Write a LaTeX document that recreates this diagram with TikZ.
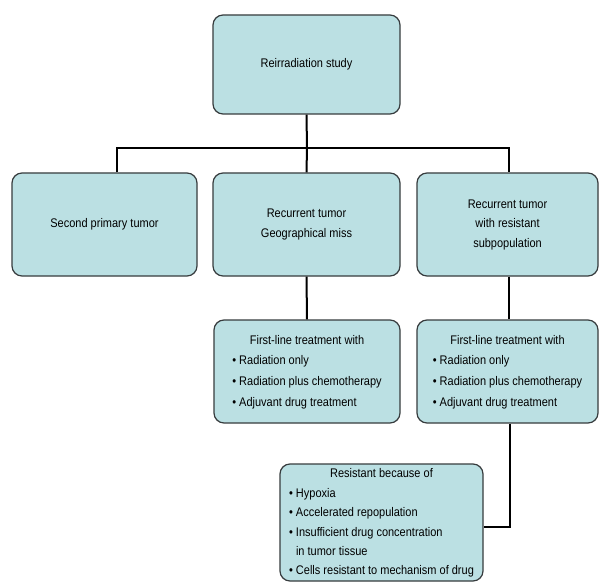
\documentclass[tikz,border=0pt]{standalone}
\usepackage{fontspec}
\setmainfont{Liberation Sans}[FakeStretch=0.88]
\definecolor{boxfill}{RGB}{187,224,227}
\definecolor{boxline}{RGB}{55,60,62}
\begin{document}
\begin{tikzpicture}[x=1pt,y=-1pt,
  box/.style={draw=boxline, line width=1.2pt, fill=boxfill, rounded corners=10pt,
    inner sep=0pt, align=center, font=\fontsize{12.5}{19.5}\selectfont},
  conn/.style={line width=2pt, black}]
\fill[white] (0,0) rectangle (600,583);
\useasboundingbox (0,0) rectangle (600,583);
\renewcommand{\arraystretch}{1.45}
\node[box, minimum width=187pt, minimum height=99pt] (top) at (306.5,64.5) {Reirradiation study};
\node[box, minimum width=185pt, minimum height=103pt] (left) at (104.5,224.5) {Second primary tumor};
\node[box, minimum width=187pt, minimum height=103pt] (mid) at (306.5,224.5) {Recurrent tumor\\Geographical miss};
\node[box, minimum width=181pt, minimum height=103pt] (right) at (507.5,224.5) {Recurrent tumor\\with resistant\\subpopulation};
\node[box, minimum width=186pt, minimum height=103pt] (treatA) at (307,371.5) {\fontsize{12.5}{14.5}\selectfont\begin{tabular}{@{}l@{}}\multicolumn{1}{@{}c@{}}{First-line treatment with}\\[-1pt] • Radiation only\\ • Radiation plus chemotherapy\\ • Adjuvant drug treatment\end{tabular}};
\node[box, minimum width=181pt, minimum height=103pt] (treatB) at (507.5,371.5) {\fontsize{12.5}{14.5}\selectfont\begin{tabular}{@{}l@{}}\multicolumn{1}{@{}c@{}}{First-line treatment with}\\[-1pt] • Radiation only\\ • Radiation plus chemotherapy\\ • Adjuvant drug treatment\end{tabular}};
\node[box, minimum width=203pt, minimum height=117pt] (resist) at (381.5,522.5) {\fontsize{12.5}{14.5}\selectfont\renewcommand{\arraystretch}{1.34}\begin{tabular}{@{}l@{}}\multicolumn{1}{@{}c@{}}{Resistant because of}\\ • Hypoxia\\ • Accelerated repopulation\\ • Insufficient drug concentration\\ \hphantom{• }in tumor tissue\\ • Cells resistant to mechanism of drug\end{tabular}};
\coordinate (barL) at (117,148);
\coordinate (barM) at (307,148);
\coordinate (barR) at (509,148);
\draw[conn] (barL |- left.north) -- (barL) -- (barR) -- (barR |- right.north);
\draw[conn] (top.south) -- (barM);
\draw[conn] (barM) -- (mid.north);
\draw[conn] (mid.south) -- (treatA.north);
\draw[conn] (barR |- right.south) -- (barR |- treatB.north);
\coordinate (elbow) at (510,527);
\draw[conn] (elbow |- treatB.south) -- (elbow) -- (elbow -| resist.east);
\end{tikzpicture}
\end{document}
